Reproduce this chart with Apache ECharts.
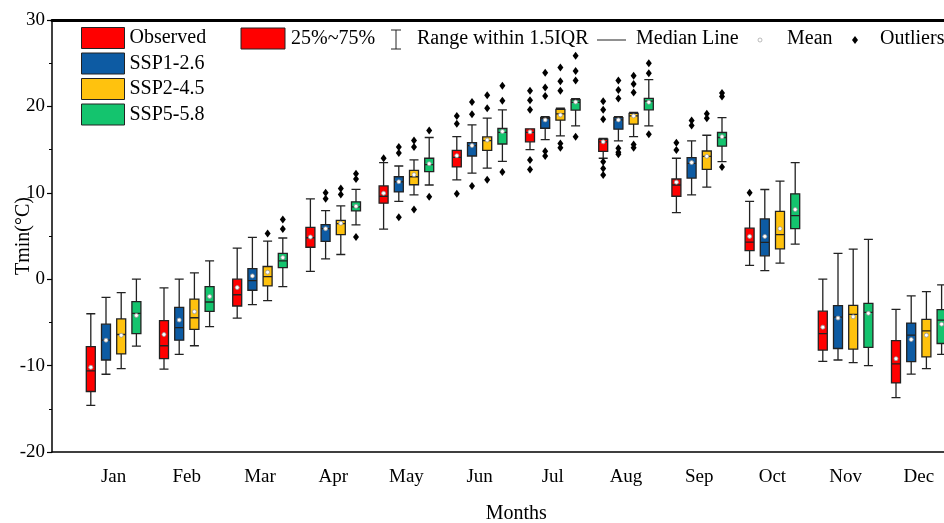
<!DOCTYPE html>
<html>
<head>
<meta charset="utf-8">
<script src="https://cdn.jsdelivr.net/npm/echarts@6/dist/echarts.min.js"></script>
<style>
html,body{margin:0;padding:0;background:#fff}
#chart{width:944px;height:523px}
</style>
</head>
<body>
<div id="chart"></div>
<script>
// months on the x axis
const months = ['Jan','Feb','Mar','Apr','May','Jun','Jul','Aug','Sep','Oct','Nov','Dec']
const yTicks = [-20, -10, 0, 10, 20, 30]

// [lower whisker, Q1, median, Q3, upper whisker]
const observed = [
  [-14.6,-13.0,-10.6,-7.8,-4.0],[-10.4,-9.2,-7.7,-4.8,-1.0],[-4.5,-3.1,-1.8,0.0,3.6],
  [0.9,3.7,4.8,6.0,9.3],[5.8,8.8,9.6,10.8,13.5],[11.5,13.0,14.1,14.9,16.5],
  [15.0,15.9,17.0,17.4,17.4],[14.0,14.8,15.9,16.2,16.3],[7.7,9.6,10.9,11.6,14.0],
  [1.6,3.3,4.3,5.9,9.0],[-9.5,-8.2,-6.3,-3.7,0.0],[-13.7,-12.0,-9.8,-7.1,-3.5]
]
const ssp126 = [
  [-11.0,-9.35,-7.06,-5.2,-2.1],[-8.7,-7.06,-5.6,-3.26,0.0],[-2.95,-1.28,-0.16,1.23,4.84],
  [2.36,4.37,5.85,6.31,7.94],[9.0,10.1,11.28,11.86,13.1],[12.28,14.26,15.47,15.8,17.86],
  [16.16,17.47,18.6,18.7,18.8],[16.0,17.36,18.44,18.7,18.8],[9.77,11.7,13.4,14.07,16.0],
  [1.0,2.71,4.26,6.98,10.38],[-9.35,-8.02,-4.38,-3.07,2.98],[-10.98,-9.53,-6.48,-5.08,-1.94]
]
const ssp245 = [
  [-10.35,-8.65,-6.4,-4.6,-1.55],[-7.7,-5.8,-4.46,-2.3,0.73],[-2.49,-0.78,0.3,1.47,4.4],
  [2.86,5.15,6.43,6.8,8.49],[9.77,10.93,11.86,12.6,13.8],[12.86,14.9,16.05,16.47,18.64],
  [16.6,18.4,19.14,19.65,19.8],[16.5,17.94,18.9,19.2,19.3],[10.65,12.7,14.22,14.84,16.66],
  [1.86,3.52,5.15,7.86,11.35],[-9.65,-8.1,-4.07,-3.02,3.49],[-10.35,-9.0,-5.97,-4.65,-1.44]
]
const ssp585 = [
  [-7.75,-6.3,-3.95,-2.6,0.0],[-5.5,-3.73,-2.64,-0.86,2.13],[-0.86,1.35,2.13,3.0,4.77],
  [6.28,7.9,8.37,8.95,10.4],[10.9,12.44,13.26,14.0,16.4],[13.64,15.65,17.0,17.44,19.6],
  [17.74,19.57,20.47,20.77,20.9],[17.74,19.6,20.6,20.93,23.1],[13.6,15.4,16.4,16.98,18.7],
  [4.07,5.85,7.36,9.88,13.49],[-10.0,-7.9,-3.84,-2.8,4.6],[-8.69,-7.44,-4.73,-3.53,-0.66]
]

// means
const meanObserved = [-10.2,-6.4,-0.97,4.88,9.95,14.3,17.05,15.9,11.23,4.95,-5.55,-9.2]
const mean126 = [-7.06,-4.73,0.38,5.85,11.28,15.47,18.44,18.44,13.5,4.95,-4.5,-6.98]
const mean245 = [-6.5,-3.76,0.81,6.47,12.1,16.1,19.0,18.9,14.22,5.85,-4.35,-6.48]
const mean585 = [-4.2,-2.0,2.5,8.44,13.37,17.1,20.5,20.47,16.5,8.06,-3.95,-5.2]

// outliers: [month index, value]
const outObserved = [
  [4,14.0],[5,18.0],[5,18.9],[5,9.88],[6,19.6],[6,20.7],[6,21.8],[6,13.8],[6,12.7],
  [7,18.5],[7,19.6],[7,20.6],[7,13.6],[7,12.8],[7,12.05],[8,14.95],[8,15.8],[9,10.0]
]
const out126 = [
  [3,9.3],[3,10.0],[4,14.6],[4,15.3],[4,7.16],[5,19.1],[5,20.5],[5,10.8],
  [6,21.2],[6,22.2],[6,23.9],[6,14.8],[6,14.26],[7,20.9],[7,21.9],[7,23.0],[7,15.15],[7,14.7],[7,14.45],
  [8,17.8],[8,18.37]
]
const out245 = [
  [2,5.3],[3,9.8],[3,10.5],[4,15.3],[4,16.05],[4,8.06],[5,19.8],[5,21.3],[5,11.5],
  [6,21.8],[6,22.9],[6,24.5],[6,15.7],[6,15.2],[7,21.6],[7,22.6],[7,23.56],[7,15.6],[7,15.2],
  [8,18.64],[8,19.14]
]
const out585 = [
  [2,5.8],[2,6.9],[3,11.6],[3,12.2],[3,4.88],[4,17.2],[4,9.53],[5,20.65],[5,22.4],[5,12.4],
  [6,23.0],[6,24.1],[6,25.85],[6,16.5],[7,23.84],[7,25.0],[7,16.78],[8,21.16],[8,21.55],[8,13.0]
]

const names = ['Observed','SSP1-2.6','SSP2-4.5','SSP5-5.8']
const colors = ['#FF0000','#0D5BA3','#FFC20E','#14C46E']
const boxes = [observed, ssp126, ssp245, ssp585]
const means = [meanObserved, mean126, mean245, mean585]
const outs = [outObserved, out126, out245, out585]

const serif = 'Liberation Serif'
const bandW = 73.2
const gridLeft = 77

// same offsets echarts uses for grouped boxplots
function boxOffsets(bw, n) {
  const avail = bw * 0.8 - 2
  const gap = avail / n * 0.3
  const w = (avail - gap * (n - 1)) / n
  let base = w / 2 - avail / 2
  const res = []
  for (let i = 0; i < n; i++) { res.push(base); base += gap + w }
  return res
}
const offs = boxOffsets(bandW, names.length)

const chart = echarts.init(document.getElementById('chart'))
const series = []
names.forEach((name, i) => {
  series.push({
    name: name,
    type: 'boxplot',
    xAxisIndex: 0, yAxisIndex: 0,
    boxWidth: [9, 9],
    itemStyle: { color: colors[i], borderColor: '#222', borderWidth: 1.3 },
    data: boxes[i]
  })
})
names.forEach((name, i) => {
  series.push({
    type: 'scatter', xAxisIndex: 0, yAxisIndex: 0, silent: true, z: 5,
    symbol: 'circle', symbolSize: 4, symbolOffset: [offs[i], 0],
    itemStyle: { color: '#fff', borderColor: '#999', borderWidth: 0.8, opacity: 1 },
    data: means[i].map((v, k) => [k, v])
  })
  series.push({
    type: 'scatter', xAxisIndex: 0, yAxisIndex: 0, silent: true, z: 5,
    symbol: 'diamond', symbolSize: [6, 8], symbolOffset: [offs[i], 0],
    itemStyle: { color: '#000', opacity: 1 },
    data: outs[i]
  })
})

const txt = { font: '20px "Liberation Serif"', fill: '#000', verticalAlign: 'middle' }
const ly = 39

const option = {
  animation: false,
  textStyle: { fontFamily: serif },
  grid: [
    { left: gridLeft, top: 20, bottom: 71, width: bandW * months.length, outerBoundsMode: 'none', containLabel: false },
    { left: 52, top: 20, bottom: 71, width: 960, outerBoundsMode: 'none', containLabel: false }
  ],
  legend: {
    data: names.map((n, i) => ({ name: n, itemStyle: { color: colors[i], borderColor: '#222', borderWidth: 1 } })),
    orient: 'vertical',
    left: 76, top: 22,
    itemWidth: 43, itemHeight: 21, itemGap: 3.5,
    icon: 'rect',
    selectedMode: false,
    textStyle: { fontFamily: serif, fontSize: 20, color: '#000' }
  },
  xAxis: [
    {
      type: 'category', gridIndex: 0, data: months,
      axisLine: { show: false }, axisTick: { show: false },
      axisLabel: { fontFamily: serif, fontSize: 19, color: '#000', margin: 16 },
      name: 'Months', nameLocation: 'middle', nameGap: 52,
      nameTextStyle: { fontFamily: serif, fontSize: 20, color: '#000' }
    },
    {
      type: 'value', gridIndex: 1, min: 0, max: 1, position: 'bottom',
      axisLine: { onZero: false, lineStyle: { color: '#000', width: 1.5 } },
      axisTick: { show: false }, axisLabel: { show: false }, splitLine: { show: false }
    },
    {
      type: 'value', gridIndex: 1, min: 0, max: 1, position: 'top',
      axisLine: { onZero: false, lineStyle: { color: '#000', width: 3 } },
      axisTick: { show: false }, axisLabel: { show: false }, splitLine: { show: false }
    }
  ],
  yAxis: [
    { type: 'value', gridIndex: 0, min: -20, max: 30, interval: 10, show: false },
    {
      type: 'value', gridIndex: 1, min: yTicks[0], max: yTicks[yTicks.length - 1], interval: 10,
      axisLine: { show: true, onZero: false, lineStyle: { color: '#000', width: 1.5 } },
      axisTick: { show: true, length: 5, lineStyle: { color: '#000', width: 1.2 } },
      minorTick: { show: true, splitNumber: 2, length: 3, lineStyle: { color: '#000', width: 1 } },
      splitLine: { show: false },
      axisLabel: { fontFamily: serif, fontSize: 19, color: '#000', margin: 7 },
      name: 'Tmin(°C)', nameLocation: 'middle', nameGap: 18, nameMoveOverlap: false,
      nameTextStyle: { fontFamily: serif, fontSize: 20, color: '#000' }
    }
  ],
  graphic: [
    { type: 'rect', shape: { x: 241, y: 28, width: 44, height: 21 }, style: { fill: '#FF0000', stroke: '#222', lineWidth: 1 } },
    { type: 'text', x: 291, y: ly, style: Object.assign({ text: '25%~75%' }, txt) },
    { type: 'line', shape: { x1: 396, y1: 30, x2: 396, y2: 49 }, style: { stroke: '#222', lineWidth: 1 } },
    { type: 'line', shape: { x1: 391, y1: 30, x2: 401, y2: 30 }, style: { stroke: '#222', lineWidth: 1 } },
    { type: 'line', shape: { x1: 391, y1: 49, x2: 401, y2: 49 }, style: { stroke: '#222', lineWidth: 1 } },
    { type: 'text', x: 417, y: ly, style: Object.assign({ text: 'Range within 1.5IQR' }, txt) },
    { type: 'line', shape: { x1: 597, y1: 40, x2: 626, y2: 40 }, style: { stroke: '#222', lineWidth: 1 } },
    { type: 'text', x: 636, y: ly, style: Object.assign({ text: 'Median Line' }, txt) },
    { type: 'circle', shape: { cx: 760, cy: 40, r: 2 }, style: { fill: '#fff', stroke: '#aaa', lineWidth: 0.8 } },
    { type: 'text', x: 787, y: ly, style: Object.assign({ text: 'Mean' }, txt) },
    { type: 'polygon', shape: { points: [[855, 36], [858, 40], [855, 44], [852, 40]] }, style: { fill: '#000' } },
    { type: 'text', x: 880, y: ly, style: Object.assign({ text: 'Outliers' }, txt) }
  ],
  series: series
}
chart.setOption(option)
</script>
</body>
</html>
